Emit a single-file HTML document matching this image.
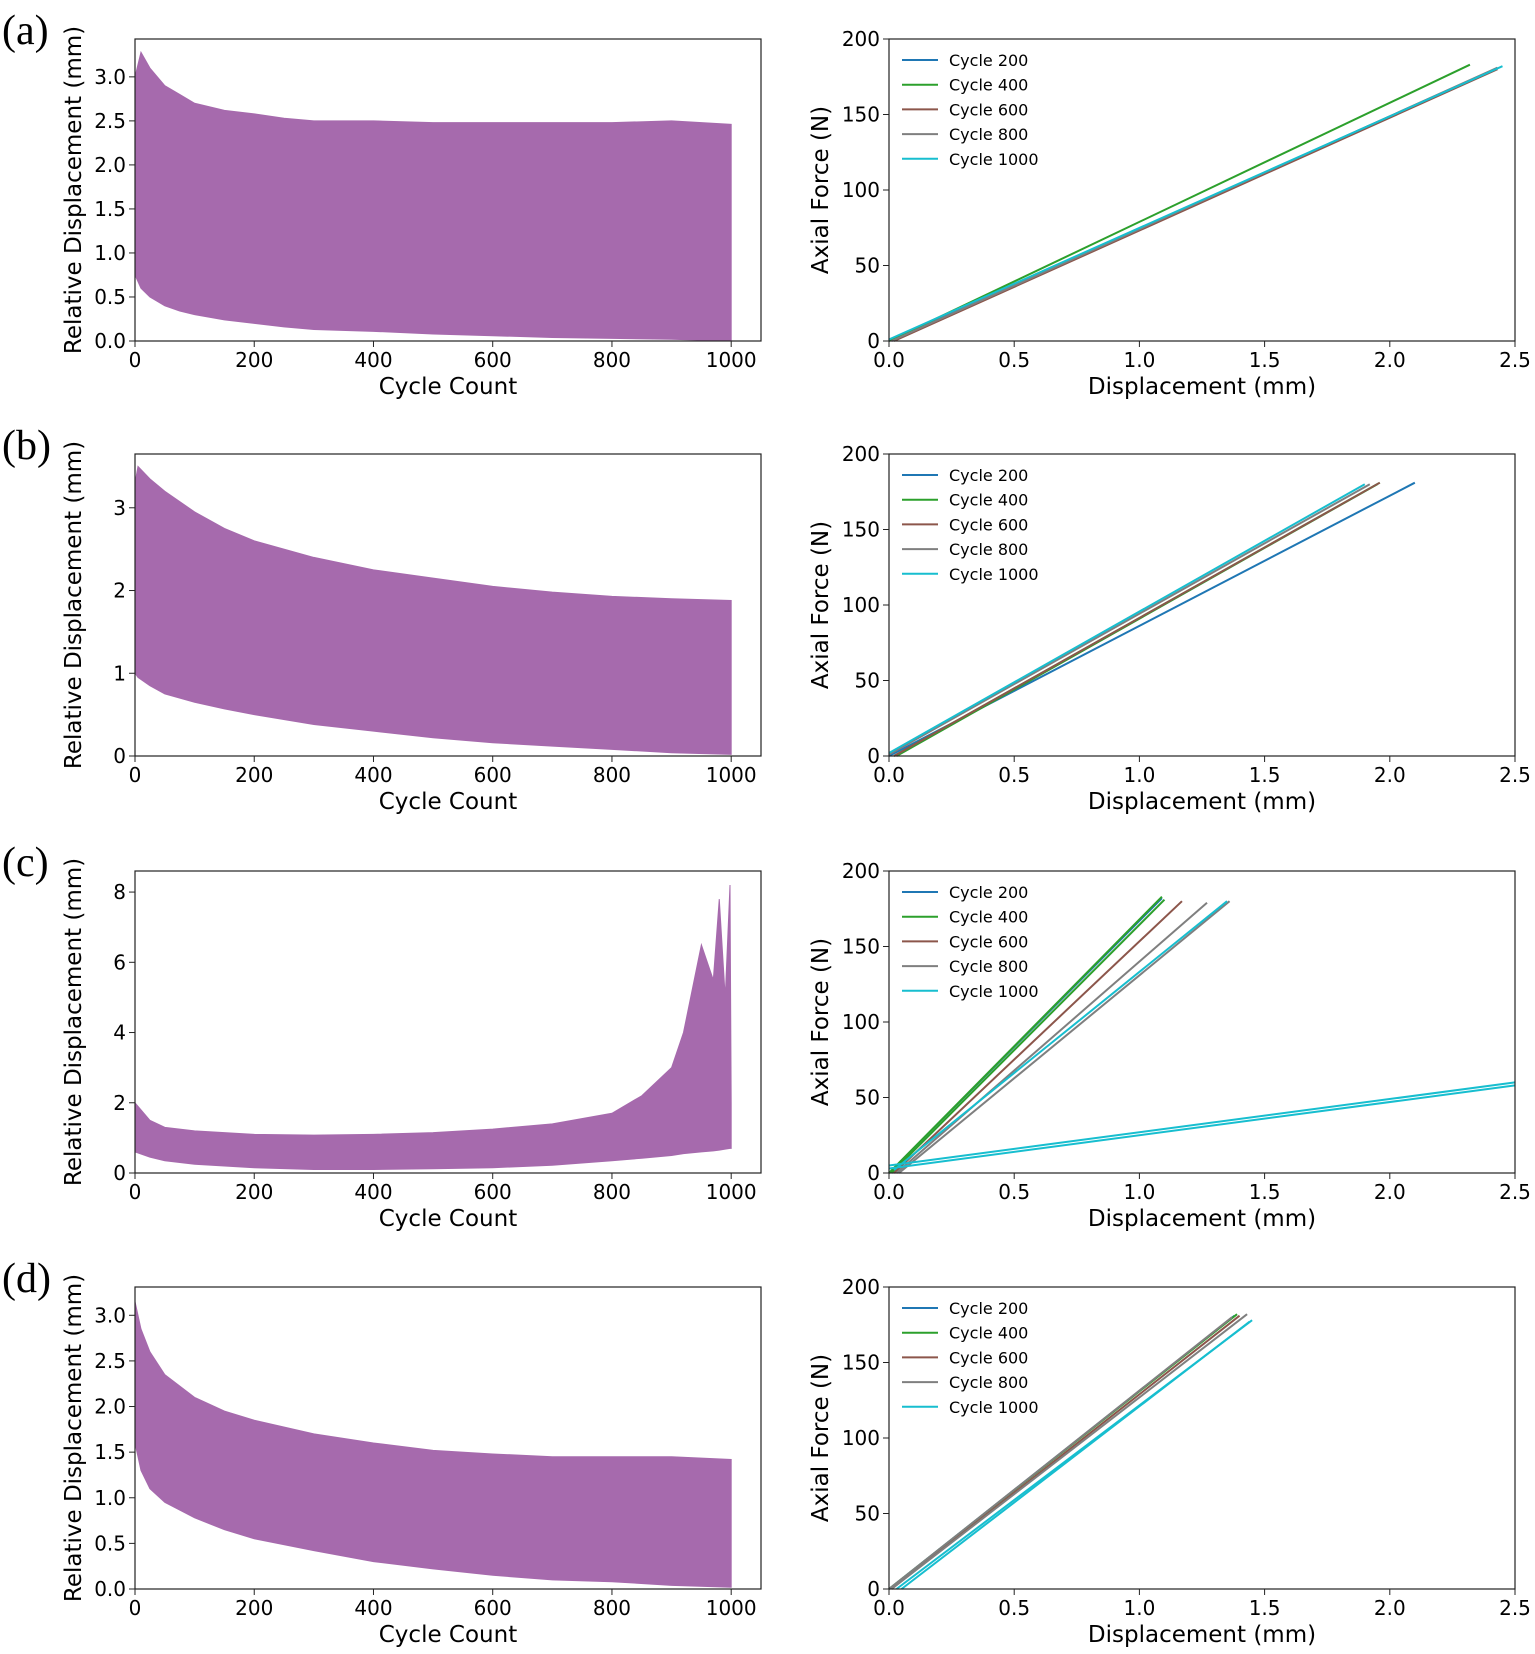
<!DOCTYPE html>
<html><head><meta charset="utf-8"><style>
html,body{margin:0;padding:0;background:#fff;}
svg{display:block;font-family:"DejaVu Sans","Liberation Sans",sans-serif;}
</style></head><body>
<svg id="fig" width="1535" height="1654" viewBox="0 0 1535 1654" xmlns="http://www.w3.org/2000/svg"></svg>
<script>
// ----- Left panels: cycle count vs relative displacement envelopes -----
const cycA = [0,10,25,50,75,100,150,200,250,300,400,500,600,700,800,900,1000];
const upA  = [3.0,3.28,3.1,2.9,2.8,2.7,2.62,2.58,2.53,2.5,2.5,2.48,2.48,2.48,2.48,2.5,2.46];
const loA  = [0.75,0.6,0.5,0.4,0.34,0.3,0.24,0.2,0.16,0.13,0.11,0.08,0.06,0.04,0.03,0.02,0.0];
const cycB = [0,5,25,50,100,150,200,300,400,500,600,700,800,900,1000];
const upB  = [3.3,3.5,3.35,3.2,2.95,2.75,2.6,2.4,2.25,2.15,2.05,1.98,1.93,1.9,1.88];
const loB  = [1.0,0.95,0.85,0.75,0.65,0.57,0.5,0.38,0.3,0.22,0.16,0.12,0.08,0.04,0.02];
const cycC = [0,25,50,100,200,300,400,500,600,700,800,850,900,920,950,970,980,990,998,1000];
const upC  = [2.0,1.5,1.3,1.2,1.1,1.08,1.1,1.15,1.25,1.4,1.7,2.2,3.0,4.0,6.5,5.5,7.8,5.0,8.2,2.0];
const loC  = [0.6,0.45,0.35,0.25,0.15,0.1,0.1,0.12,0.15,0.22,0.35,0.42,0.5,0.55,0.6,0.63,0.65,0.68,0.7,0.7];
const cycD = [0,10,25,50,100,150,200,300,400,500,600,700,800,900,1000];
const upD  = [3.15,2.85,2.6,2.35,2.1,1.95,1.85,1.7,1.6,1.52,1.48,1.45,1.45,1.45,1.42];
const loD  = [1.6,1.3,1.1,0.95,0.78,0.65,0.55,0.42,0.3,0.22,0.15,0.1,0.08,0.04,0.02];
const yMaxL = [3.43,3.65,8.6,3.31];
const yTicksA = ["0.0","0.5","1.0","1.5","2.0","2.5","3.0"];
const yTicksB = ["0","1","2","3"];
const yTicksC = ["0","2","4","6","8"];
const yTicksD = ["0.0","0.5","1.0","1.5","2.0","2.5","3.0"];
const xTicksL = ["0","200","400","600","800","1000"];
// ----- Right panels: displacement vs axial force lines [x0,y0,x1,y1] per cycle -----
const cycleNames = ["Cycle 200","Cycle 400","Cycle 600","Cycle 800","Cycle 1000"];
const linesA = [[[0.0,0,2.42,180]],[[0.0,0,2.32,183]],[[0.02,0,2.43,180]],[[0.01,0,2.43,181]],[[0.0,1,2.45,182]]];
const linesB = [[[0.0,0,2.1,181]],[[0.03,0,1.95,180],[0.02,0,1.96,181]],[[0.02,0,1.96,181]],[[0.0,1,1.92,180]],[[0.0,2,1.9,180]]];
const linesC = [[[0.0,0,1.09,182]],[[0.0,0,1.09,183],[0.01,0,1.1,181]],[[0.02,0,1.17,180]],[[0.03,0,1.27,179],[0.04,0,1.36,180]],[[0.02,2,1.35,180],[0.0,5,2.5,60],[0.0,3,2.5,58]]];
const linesD = [[[0.0,0,1.38,181]],[[0.0,0,1.39,182]],[[0.01,0,1.4,181]],[[0.01,0,1.43,182],[0.0,0,1.37,180]],[[0.03,0,1.45,178],[0.05,0,1.44,177]]];
const xTicksR = ["0.0","0.5","1.0","1.5","2.0","2.5"];
const yTicksR = ["0","50","100","150","200"];
const colors = ["#1f77b4","#2ca02c","#8c564b","#7f7f7f","#17becf"];

const NS="http://www.w3.org/2000/svg";
const svg=document.getElementById('fig');
function mk(tag,attrs,parent){const e=document.createElementNS(NS,tag);for(const k in attrs)e.setAttribute(k,attrs[k]);(parent||svg).appendChild(e);return e;}
function txt(s,attrs,parent){const e=mk('text',attrs,parent);e.textContent=s;return e;}

const L={x0:135,x1:761}, R={x0:889,x1:1515};
const rowTop=[39,454,871,1287], H=302;
const letters=["(a)","(b)","(c)","(d)"];
const left=[[cycA,upA,loA,yTicksA],[cycB,upB,loB,yTicksB],[cycC,upC,loC,yTicksC],[cycD,upD,loD,yTicksD]];
const right=[linesA,linesB,linesC,linesD];

for(let r=0;r<4;r++){
  const top=rowTop[r], bot=top+H;
  const lab=txt(letters[r],{x:2,y:top+5,'font-size':42,'font-family':'"Liberation Serif",serif'});
  
  
  // left chart
  const g=mk('g',{});
  
  
  const [cx,up,lo,yt]=left[r];
  const ymax=yMaxL[r];
  const sx=v=>L.x0+(v/1050)*(L.x1-L.x0);
  const sy=v=>bot-(v/ymax)*H;
  let pts=[];
  for(let i=0;i<cx.length;i++)pts.push(sx(cx[i])+','+sy(up[i]));
  for(let i=cx.length-1;i>=0;i--)pts.push(sx(cx[i])+','+sy(lo[i]));
  const poly=mk('polygon',{points:pts.join(' '),fill:'#a66aad',stroke:'#a66aad','stroke-width':1},g);
  
  
  mk('rect',{x:L.x0,y:top,width:L.x1-L.x0,height:H,fill:'none',stroke:'#222','stroke-width':1.2},g);
  const step=parseFloat(yt[1]);
  yt.forEach((t,i)=>{const y=sy(parseFloat(t));mk('line',{x1:L.x0-6,x2:L.x0,y1:y,y2:y,stroke:'#222'},g);
    const e=txt(t,{x:L.x0-9,y:y+7,'text-anchor':'end','font-size':20},g);
    });
  xTicksL.forEach(t=>{const x=sx(parseFloat(t));mk('line',{x1:x,x2:x,y1:bot,y2:bot+6,stroke:'#222'},g);
    const e=txt(t,{x:x,y:bot+26,'text-anchor':'middle','font-size':20},g);
    });
  const xl=txt('Cycle Count',{x:(L.x0+L.x1)/2,y:bot+53,'text-anchor':'middle','font-size':23},g);
  
  const yl=txt('Relative Displacement (mm)',{x:0,y:0,'text-anchor':'middle','font-size':23,transform:`translate(81,${top+H/2}) rotate(-90)`},g);
  

  // right chart
  const g2=mk('g',{});
  
  
  const rx=v=>R.x0+(v/2.5)*(R.x1-R.x0);
  const ry=v=>bot-(v/200)*H;
  right[r].forEach((segs,ci)=>{segs.forEach(s=>{
    const ln=mk('line',{x1:rx(s[0]),y1:ry(s[1]),x2:rx(s[2]),y2:ry(s[3]),stroke:colors[ci],'stroke-width':2},g2);
    
    });});
  mk('rect',{x:R.x0,y:top,width:R.x1-R.x0,height:H,fill:'none',stroke:'#222','stroke-width':1.2},g2);
  yTicksR.forEach(t=>{const y=ry(parseFloat(t));mk('line',{x1:R.x0-6,x2:R.x0,y1:y,y2:y,stroke:'#222'},g2);
    const e=txt(t,{x:R.x0-9,y:y+7,'text-anchor':'end','font-size':20},g2);
    });
  xTicksR.forEach(t=>{const x=rx(parseFloat(t));mk('line',{x1:x,x2:x,y1:bot,y2:bot+6,stroke:'#222'},g2);
    const e=txt(t,{x:x,y:bot+26,'text-anchor':'middle','font-size':20},g2);
    });
  const xl2=txt('Displacement (mm)',{x:(R.x0+R.x1)/2,y:bot+53,'text-anchor':'middle','font-size':23},g2);
  
  const yl2=txt('Axial Force (N)',{x:0,y:0,'text-anchor':'middle','font-size':23,transform:`translate(828,${top+H/2}) rotate(-90)`},g2);
  
  const lg=mk('g',{},g2);
  
  
  cycleNames.forEach((n,i)=>{const y=top+21+i*24.7;
    mk('line',{x1:902,x2:938,y1:y,y2:y,stroke:colors[i],'stroke-width':2},lg);
    const e=txt(n,{x:949,y:y+6,'font-size':16},lg);
    });
}
</script>
</body></html>
